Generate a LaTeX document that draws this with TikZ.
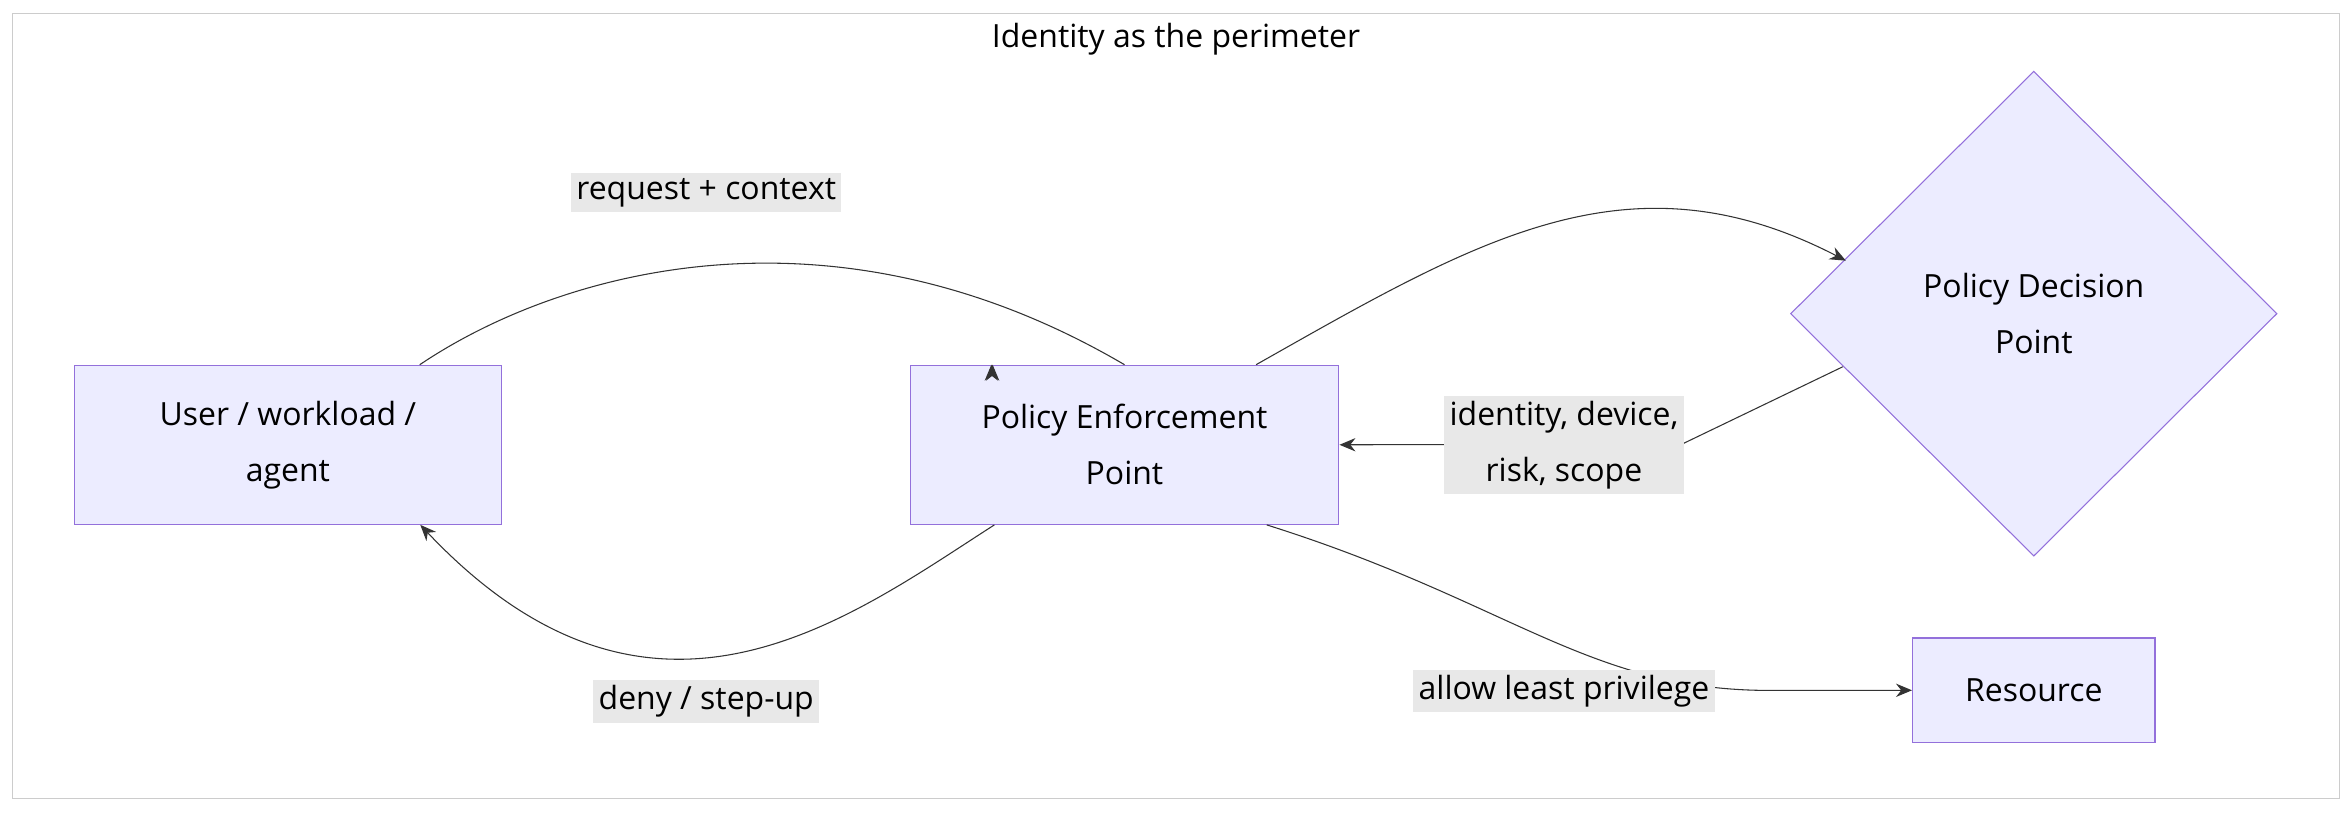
\documentclass[tikz,border=0pt]{standalone}
\usepackage{fontspec}
\setmainfont{Open Sans}
\usetikzlibrary{arrows.meta,shapes.geometric,positioning}
\definecolor{boxfill}{HTML}{ECECFF}
\definecolor{boxline}{HTML}{9370DB}
\definecolor{lblfill}{HTML}{E8E8E8}
\definecolor{edgecol}{HTML}{333333}
\tikzset{
	>={Stealth[length=6pt,width=5pt]},
	block/.style={
			draw=boxline,
			fill=boxfill,
			rectangle,
			align=center,
			font=\fontsize{12}{21}\selectfont
		},
	Decision/.style={ diamond,
			draw=boxline,
			fill=boxfill,
			minimum width=6.42cm,
			minimum height=6.4cm,
			inner sep=0pt,
			align=center,
			font=\fontsize{12}{21}\selectfont
		},
	lbl/.style={
			fill=lblfill,
			inner sep=2pt,
			align=center,
			font=\fontsize{12}{21}\selectfont
		},
	link/.style={draw=edgecol, thin, ->}
}
\begin{document}
\begin{tikzpicture}
    \useasboundingbox (0,0) rectangle (31.04,10.76);
    \draw[gray!40] (0.16,0.22) rectangle (30.88,10.58);
    \node[font=\fontsize{12}{14}\selectfont] (title) at (15.52,10.24) {Identity as the perimeter};

    \node[block, minimum width=5.64cm, minimum height=2.1cm] at (3.8,4.89) (user) {User / workload /\\agent};
    \node[block, minimum width=5.66cm, minimum height=2.1cm] at (14.84,4.89) (pep) {Policy Enforcement\\Point};
    \node[Decision] at (26.84,6.62) (pdp) {Policy Decision\\Point};
    \node[block, minimum width=3.2cm, minimum height=1.38cm] at (26.84,1.65) (res) {Resource};

    % request path
    \draw[link] (user.north) ++(1.74,0) coordinate (u1)
      (u1) .. controls (7.4,7.2) and (11,8.2) .. (pep.north) ++(-1.74,0) coordinate (p1);
    \draw[link] (pep.north west) ++(1.08,0) coordinate (pin);
    \node[lbl] at (9.32,8.22) (reqlbl) {request + context};

    % reply path
    \coordinate (pout) at ([xshift=1.12cm]pep.south west);
    \coordinate (uin) at ([xshift=-1.08cm]user.south east);
    \draw[link] (pout) .. controls (11.2,2.6) and (8.6,0.6) .. (uin);
    \node[lbl] at (9.32,1.5) (denylbl) {deny / step-up};

    % decision
    \coordinate (pq) at ([xshift=-1.1cm]pep.north east);
    \coordinate (dq) at (24.36,7.32);
    \draw[link] (pq) .. controls (19.5,7.6) and (21.5,8.8) .. (dq);
    \coordinate (dr) at (24.32,5.92);
    \draw[link] (dr) -- (22.2,4.9) -- (pep.east);
    \node[lbl] at (20.64,4.89) (ctxlbl) {identity, device,\\risk, scope};

    % access
    \coordinate (pr) at ([xshift=-0.96cm]pep.south east);
    \draw[link] (pr) .. controls (20,2.8) and (21,1.6) .. (23.5,1.65) -- (res.west);
    \node[lbl] at (20.64,1.64) (allowlbl) {allow least privilege};
  \end{tikzpicture}
\end{document}
